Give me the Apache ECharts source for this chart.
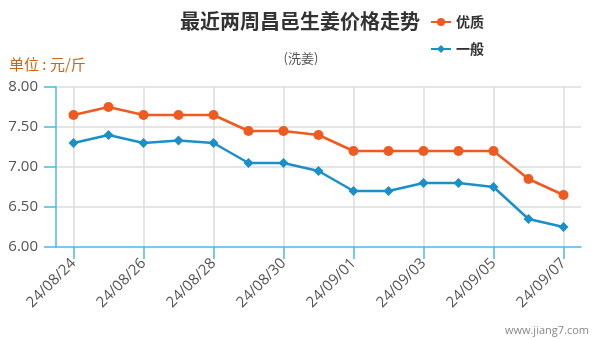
<!DOCTYPE html>
<html><head><meta charset="utf-8">
<script src="https://cdn.jsdelivr.net/npm/echarts@6/dist/echarts.min.js"></script>
<style>html,body{margin:0;padding:0;background:#fff}#c{width:600px;height:339px}</style>
</head><body><div id="c"></div>
<script>
var categories = ['24/08/24','24/08/25','24/08/26','24/08/27','24/08/28','24/08/29','24/08/30','24/08/31','24/09/01','24/09/02','24/09/03','24/09/04','24/09/05','24/09/06','24/09/07'];
var youzhi = [7.65,7.75,7.65,7.65,7.65,7.45,7.45,7.40,7.20,7.20,7.20,7.20,7.20,6.85,6.65];
var yiban = [7.30,7.40,7.30,7.33,7.30,7.05,7.05,6.95,6.70,6.70,6.80,6.80,6.75,6.35,6.25];
var seriesNames = ['优质','一般'];
var titleText = '最近两周昌邑生姜价格走势';
var subText = '(洗姜)';
var unitText = '单位 : 元/斤';
var watermark = 'www.jiang7.com';

var ORANGE = '#ee5a1f', BLUE = '#1a8fc8', AXIS = '#48bbe6';
var cjk = '"Noto Sans CJK SC","Open Sans",sans-serif';
var chart = echarts.init(document.getElementById('c'), null, {renderer:'canvas'});
chart.setOption({
  animation:false,
  textStyle:{fontFamily:cjk},
  title:[
    {text:titleText, left:295, textAlign:'center', top:6, textStyle:{fontSize:20, fontWeight:'bold', color:'#333', fontFamily:cjk}},
    {text:subText, left:296, textAlign:'center', top:47, textStyle:{fontSize:13, fontWeight:'normal', color:'#555', fontFamily:cjk}},
    {text:unitText, left:4, top:52, textStyle:{fontSize:15, fontWeight:'normal', color:'#cc6414', fontFamily:cjk}},
    {text:watermark, right:6, top:320, textStyle:{fontSize:11, fontWeight:'normal', color:'#888', fontFamily:'"Open Sans",sans-serif'}}
  ],
  legend:{orient:'vertical', left:425, top:10, itemWidth:20, itemHeight:10, itemGap:13,
    textStyle:{fontSize:14, fontWeight:'bold', color:'#333', fontFamily:cjk},
    data:[seriesNames[0], seriesNames[1]]},
  grid:{left:56, right:19, top:87, bottom:92},
  xAxis:{type:'category', data:categories, boundaryGap:true, z:5,
    axisLine:{show:true, lineStyle:{color:AXIS, width:1.5}},
    axisTick:{show:true, alignWithLabel:true, interval:1, length:12, lineStyle:{color:AXIS, width:1.5}},
    axisLabel:{show:true, interval:1, rotate:45, fontSize:15, color:'#555', margin:14, fontFamily:'"Open Sans",sans-serif'},
    splitLine:{show:true, interval:1, alignWithLabel:true, lineStyle:{color:'#ddd', width:1.5}}
  },
  yAxis:{type:'value', min:6, max:8, interval:0.5, z:5,
    axisLine:{show:true, lineStyle:{color:AXIS, width:1.5}},
    axisTick:{show:true, length:12, lineStyle:{color:AXIS, width:1.5}},
    axisLabel:{formatter:function(v){return v.toFixed(2);}, fontSize:15, color:'#555', margin:18, fontFamily:'"Open Sans",sans-serif'},
    splitLine:{show:true, showMinLine:false, lineStyle:{color:'#ddd', width:1.5}}
  },
  series:[
    {name:seriesNames[0], type:'line', data:youzhi, symbol:'circle', symbolSize:10, color:ORANGE, lineStyle:{width:2.5}, z:10},
    {name:seriesNames[1], type:'line', data:yiban, symbol:'diamond', symbolSize:10, color:BLUE, lineStyle:{width:2.5}, z:10}
  ]
});
</script></body></html>
